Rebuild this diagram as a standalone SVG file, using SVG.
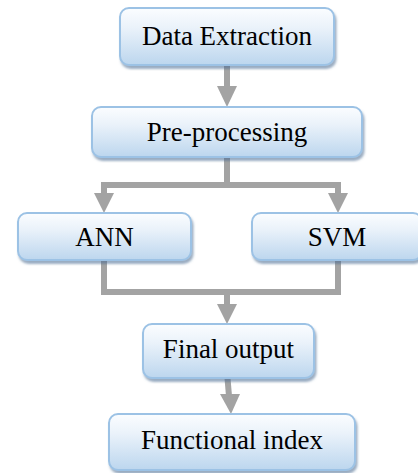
<svg xmlns="http://www.w3.org/2000/svg" width="418" height="473" viewBox="0 0 418 473">
<defs>
<linearGradient id="g" x1="0" y1="0" x2="0" y2="1">
<stop offset="0" stop-color="#fbfdff"/>
<stop offset="0.35" stop-color="#eaf2fa"/>
<stop offset="1" stop-color="#bcd6ee"/>
</linearGradient>
<filter id="sh" x="-10%" y="-10%" width="120%" height="130%">
<feDropShadow dx="1.5" dy="3" stdDeviation="1.2" flood-color="#4a6a90" flood-opacity="0.55"/>
</filter>
</defs>
<style>
.box{fill:url(#g);stroke:#9cc2e5;stroke-width:2;filter:url(#sh)}
.t{font-size:27px;fill:#000;text-anchor:middle}
.ln{fill:none;stroke:#a3a3a3;stroke-width:6;stroke-linejoin:miter;stroke-linecap:butt}
.hd{fill:#a3a3a3}
</style>
<g id="connectors">
<path class="ln" d="M227 65 V88"/>
<polygon class="hd" points="217,86 237,86 227,107"/>
<path class="ln" d="M227 157 V185 M104 195 V185 H338 V195"/>
<polygon class="hd" points="94,193 114,193 104,213"/>
<polygon class="hd" points="328,193 348,193 338,213"/>
<path class="ln" d="M104 260 V292 H338 V260 M227 292 V306"/>
<polygon class="hd" points="217,304 237,304 227,324"/>
<path class="ln" d="M227.5 378 L229 396"/>
<polygon class="hd" points="220,394 240,394 231,414"/>
</g>
<g id="data-extraction">
<rect class="box" x="120" y="8" width="214" height="57" rx="9"/>
<text class="t" x="227" y="45" font-family="Liberation Serif, serif">Data Extraction</text>
</g>
<g id="pre-processing">
<rect class="box" x="92" y="107" width="270" height="50" rx="9"/>
<text class="t" x="227" y="141" font-family="Liberation Serif, serif">Pre-processing</text>
</g>
<g id="ann">
<rect class="box" x="18" y="213" width="173" height="47" rx="9"/>
<text class="t" x="104.5" y="246" font-family="Liberation Serif, serif">ANN</text>
</g>
<g id="svm">
<rect class="box" x="252" y="213" width="170" height="47" rx="9"/>
<text class="t" x="337" y="246" font-family="Liberation Serif, serif">SVM</text>
</g>
<g id="final-output">
<rect class="box" x="143" y="324" width="171" height="54" rx="9"/>
<text class="t" x="228.5" y="358" font-family="Liberation Serif, serif">Final output</text>
</g>
<g id="functional-index">
<rect class="box" x="109" y="414" width="246" height="56" rx="9"/>
<text class="t" x="232" y="449" font-family="Liberation Serif, serif">Functional index</text>
</g>
</svg>
